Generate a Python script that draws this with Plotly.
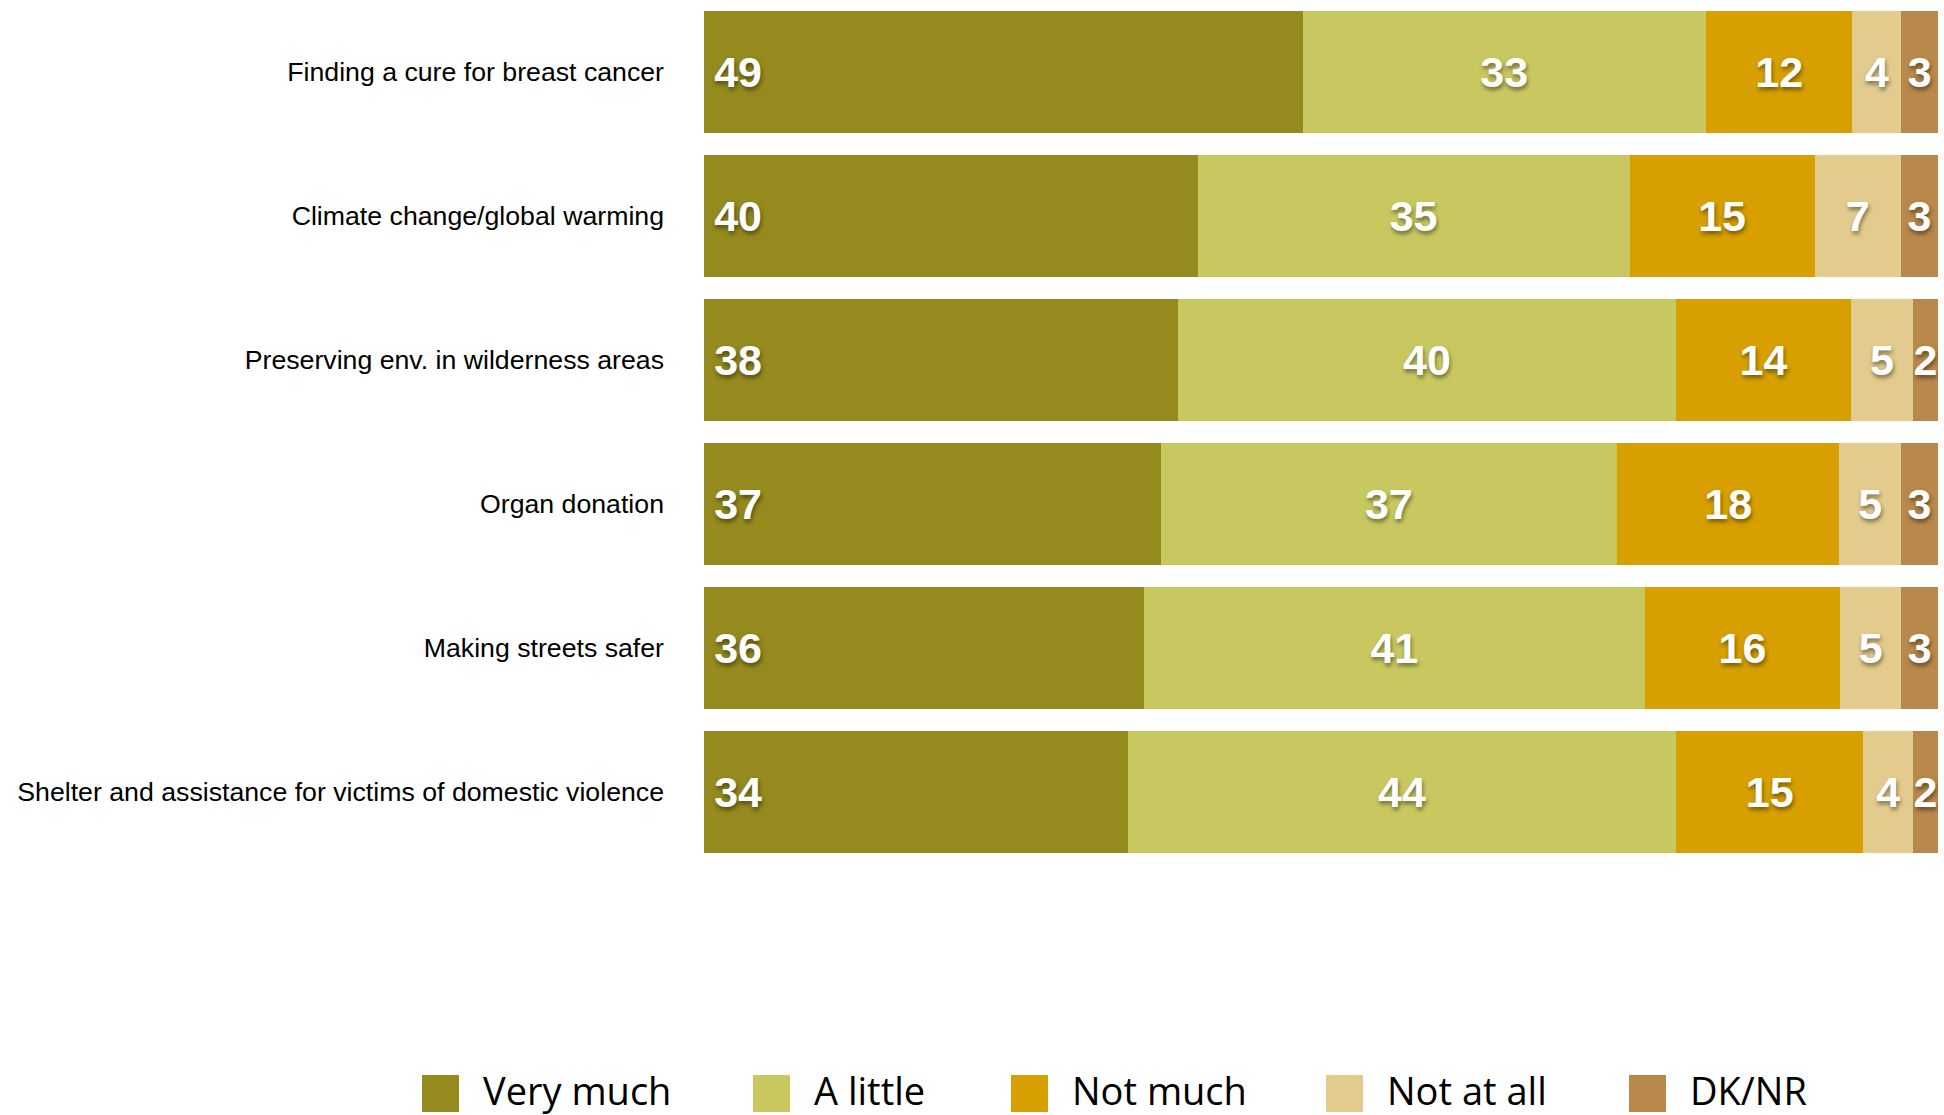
import plotly.graph_objects as go

# Survey items (top to bottom) and response shares per item
categories = [
    "Finding a cure for breast cancer",
    "Climate change/global warming",
    "Preserving env. in wilderness areas",
    "Organ donation",
    "Making streets safer",
    "Shelter and assistance for victims of domestic violence",
]
series_names = ["Very much", "A little", "Not much", "Not at all", "DK/NR"]
very_much = [49, 40, 38, 37, 36, 34]
a_little = [33, 35, 40, 37, 41, 44]
not_much = [12, 15, 14, 18, 16, 15]
not_at_all = [4, 7, 5, 5, 5, 4]
dk_nr = [3, 3, 2, 3, 3, 2]
series_values = [very_much, a_little, not_much, not_at_all, dk_nr]
colors = ["#948A1E", "#C9C860", "#D7A000", "#E2CB8C", "#B8894A"]

W, H = 1944, 1115
L, R, T, B = 704, 6, 0, 251
PW, PH = W - L - R, H - T - B
VALUE_SIZE = 43

fig = go.Figure()
for i, (name, vals, col) in enumerate(zip(series_names, series_values, colors)):
    first = i == 0
    fig.add_trace(go.Bar(
        y=categories,
        x=vals,
        name=name,
        orientation="h",
        marker=dict(color=col, line=dict(width=0)),
        text=[("\u2006" + str(v)) if first else str(v) for v in vals],
        textposition="inside",
        insidetextanchor="start" if first else "middle",
        textfont=dict(family="Liberation Sans, Arial, sans-serif", size=VALUE_SIZE,
                      color="white", weight="bold",
                      shadow="1px 3px 4px rgba(0,0,0,0.45)"),
        showlegend=False,
        hoverinfo="skip",
    ))

# Legend drawn as swatches + labels below the plot
leg_sq_left = [422, 753, 1011, 1326, 1629]
sq = 37
sq_top = 1075
shapes, annotations = [], []


def px_x(x):
    return (x - L) / PW


def px_y(y):
    return (PH + T - y) / PH


for name, col, x0 in zip(series_names, colors, leg_sq_left):
    shapes.append(dict(type="rect", xref="paper", yref="paper",
                       x0=px_x(x0), x1=px_x(x0 + sq),
                       y0=px_y(sq_top + sq), y1=px_y(sq_top),
                       fillcolor=col, line=dict(width=0)))
    annotations.append(dict(xref="paper", yref="paper",
                            x=px_x(x0 + 60), y=px_y(sq_top + 15),
                            xanchor="left", yanchor="middle", showarrow=False,
                            text=name, borderpad=0,
                            font=dict(family="Open Sans, Noto Sans, sans-serif",
                                      size=38, color="black")))

fig.update_layout(
    width=W, height=H,
    margin=dict(l=L, r=R, t=T, b=B, pad=0),
    barmode="stack",
    barnorm="percent",
    bargap=0.146,
    plot_bgcolor="white",
    paper_bgcolor="white",
    uniformtext=dict(minsize=VALUE_SIZE, mode="show"),
    shapes=shapes,
    annotations=annotations,
    xaxis=dict(range=[0, 100], visible=False, fixedrange=True),
    yaxis=dict(autorange="reversed", showgrid=False, zeroline=False,
               showline=False, ticks="", ticklabelstandoff=39,
               tickfont=dict(family="Liberation Sans, Arial, sans-serif",
                             size=26.7, color="black")),
)

fig.write_html("out.html")
